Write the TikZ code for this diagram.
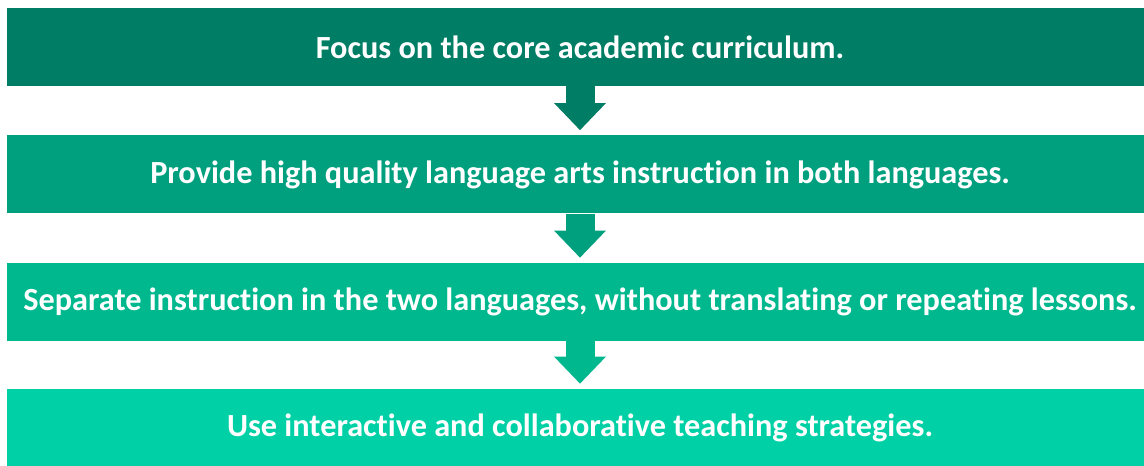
\documentclass[tikz,border=0pt]{standalone}
\usepackage{fontspec}
\setmainfont{Carlito}[Ligatures=NoCommon]
\usetikzlibrary{arrows.meta}

\begin{document}
\begin{tikzpicture}[x=0.75pt, y=-0.75pt]
    % Define colors
    \definecolor{stepcolora}{RGB}{0, 126, 101}
    \definecolor{stepcolorb}{RGB}{0, 160, 127}
    \definecolor{stepcolorc}{RGB}{0, 184, 142}
    \definecolor{stepcolord}{RGB}{0, 208, 165}

    \tikzset{
        stepbox/.style={rectangle, inner sep=0pt, minimum width=859.5pt, minimum height=58.5pt,
            text=white, font=\fontsize{24.2}{29}\selectfont\bfseries},
        flowarrow/.style={line width=21.75pt, line cap=butt,
            -{Triangle[width=37.5pt, length=20.25pt]}, shorten >=3.75pt}
    }

    % Page size
    \useasboundingbox (0,0) rectangle (1144,466);

    % Steps
    \node[stepbox, fill=stepcolora] (focus) at (580, 47) {Focus on the core academic curriculum.};
    \node[stepbox, fill=stepcolorb] (provide) at (580, 174.5) {Provide high quality language arts instruction in both languages.};
    \node[stepbox, fill=stepcolorc] (separate) at (580, 302) {Separate instruction in the two languages, without translating or repeating lessons.};
    \node[stepbox, fill=stepcolord] (interactive) at (580, 428) {Use interactive and collaborative teaching strategies.};

    % Arrows between steps
    \draw[flowarrow, stepcolora] (focus.south) -- (provide.north);
    \draw[flowarrow, stepcolorb] (provide.south) -- (separate.north);
    \draw[flowarrow, stepcolorc] (separate.south) -- (interactive.north);
\end{tikzpicture}
\end{document}
